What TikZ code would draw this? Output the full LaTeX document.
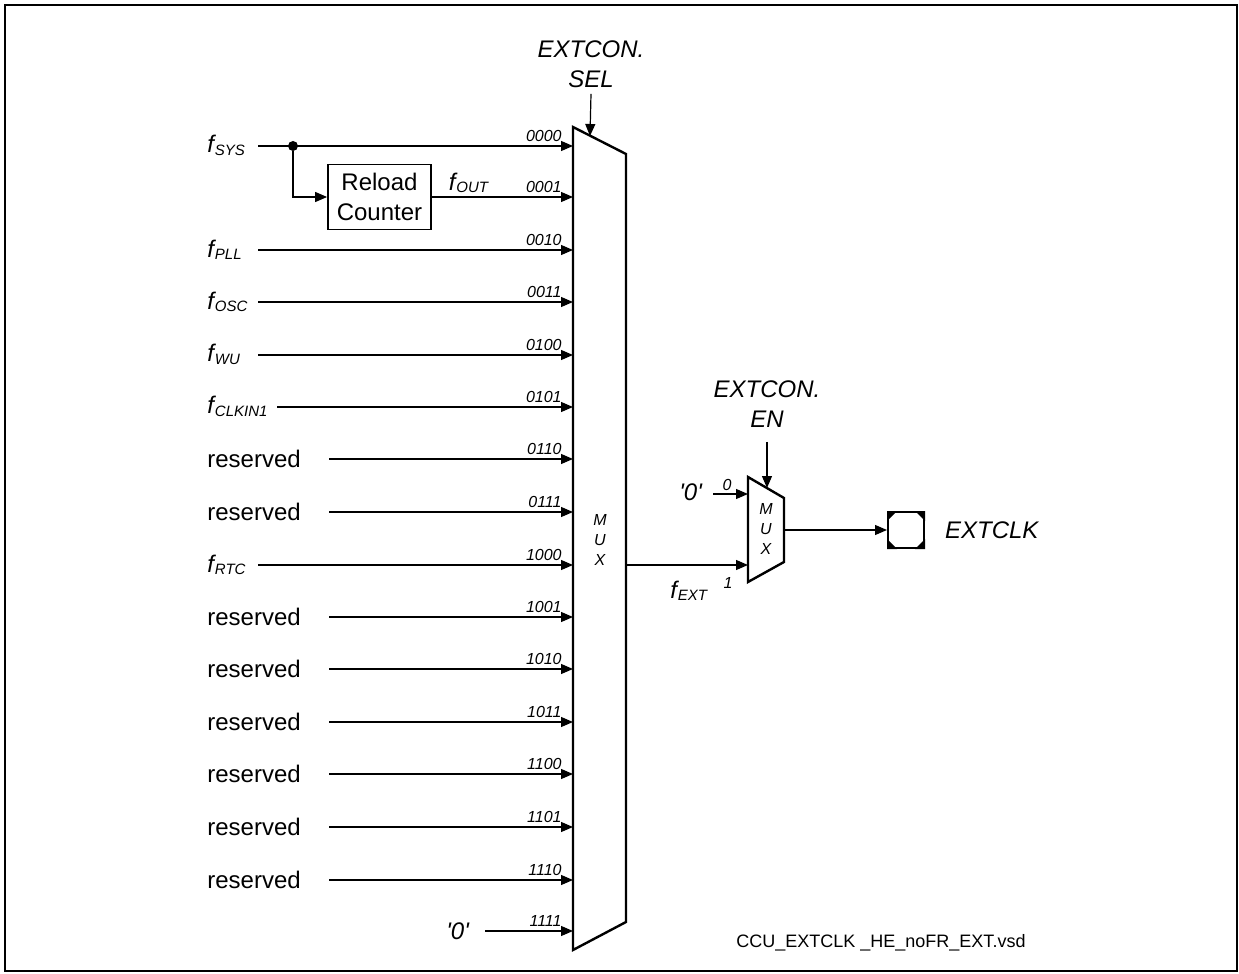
\documentclass[tikz,border=0pt]{standalone}
\usepackage{fontspec}
\setmainfont{Liberation Sans}
\usetikzlibrary{arrows.meta}
\newcommand{\fsub}[1]{\textit{f}\kern-0.6pt\raisebox{-0.2ex}{\fontsize{7.5}{8}\selectfont\textit{#1}}}
\newcommand{\zq}{\textit{\textquotesingle 0\textquotesingle}}

\tikzset{
  sig/.style={line width=0.6pt, -{Triangle[length=6pt,width=5pt]}},
  bitlbl/.style={font=\fontsize{8}{9}\selectfont\itshape, anchor=south east, inner sep=0pt},
  inlbl/.style={font=\fontsize{12}{14}\selectfont, anchor=base west, inner sep=0pt},
  ctrl/.style={font=\fontsize{12}{15}\selectfont\itshape, align=center, inner sep=0pt},
  muxtxt/.style={font=\fontsize{8}{10}\selectfont\itshape, align=center, inner sep=0pt}
}

\begin{document}
\begin{tikzpicture}[x=0.5pt,y=-0.5pt]
  \useasboundingbox (0,0) rectangle (1239,974);
  \draw[line width=1.2pt] (5,5) rectangle (1237,971);

  % Main multiplexer
  \draw[line width=1.2pt] (573,127) -- (626,154) -- (626,922) -- (573,950) -- cycle;
  \node[muxtxt] (mux) at (600,540) {M\\U\\X};
  \coordinate (selin) at (590,136);
  \node[ctrl] (sel) at (591,64) {EXTCON.\\SEL};
  \draw[sig] ([yshift=-3pt]sel.south) -- (selin);

  % Inputs and select codes
  \foreach \i/\yy/\sx/\bits in {0/146/258/0000, 1/197/431/0001, 2/250/258/0010,
      3/302/258/0011, 4/355/258/0100, 5/407/277/0101, 6/459/329/0110,
      7/512/329/0111, 8/565/258/1000, 9/617/329/1001, 10/669/329/1010,
      11/722/329/1011, 12/774/329/1100, 13/827/329/1101, 14/880/329/1110,
      15/931/485/1111}{
    \coordinate (s\i) at (\sx,\yy);
    \coordinate (m\i) at (573,\yy);
    \node[bitlbl] (b\i) at (562,\yy-4) {\bits};
  }
  \foreach \i in {0,2,3,...,15}
    \draw[sig] (s\i) -- (m\i);

  \node[inlbl] (lsys) at (207,153) {\fsub{SYS}};
  \node[inlbl] (lpll) at (207,257) {\fsub{PLL}};
  \node[inlbl] (losc) at (207,309) {\fsub{OSC}};
  \node[inlbl] (lwu) at (207,362) {\fsub{WU}};
  \node[inlbl] (lclk) at (207,414) {\fsub{CLKIN1}};
  \node[inlbl] (lrtc) at (207,572) {\fsub{RTC}};
  \foreach \i/\yy in {6/459, 7/512, 9/617, 10/669, 11/722, 12/774, 13/827, 14/880}
    \node[inlbl] (lr\i) at (207,\yy+8) {reserved};
  \node[inlbl] (lzero) at (446,939) {\zq};

  % Reload counter branch
  \node[draw, line width=0.9pt, minimum width=51.5pt, minimum height=32.5pt, inner sep=0pt,
        align=center, font=\fontsize{12}{15}\selectfont] (cnt) at (379.5,197) {Reload\\Counter};
  \node[circle, fill, inner sep=0pt, minimum size=5pt] (dot) at (293,146) {};
  \draw[sig] (dot) |- (cnt.west);
  \draw[sig] (cnt.east) -- (m1);
  \node[font=\fontsize{12}{14}\selectfont] (fout) at (469,183) {\fsub{OUT}};

  % Enable multiplexer
  \draw[line width=1.2pt] (748,477) -- (784,498) -- (784,562) -- (748,582) -- cycle;
  \node[muxtxt] (mux2) at (766,529) {M\\U\\X};
  \coordinate (mo) at (626,565);
  \coordinate (k0) at (748,494);
  \coordinate (k1) at (748,565);
  \coordinate (z0) at (713,494);
  \coordinate (enin) at (767,488);
  \coordinate (k2) at (784,530);
  \draw[sig] (mo) -- (k1);
  \draw[sig] (z0) -- (k0);
  \node[inlbl] (lz2) at (679,500) {\zq};
  \node[bitlbl, anchor=center] (b20) at (727,485) {0};
  \node[bitlbl, anchor=center] (b21) at (728,583) {1};
  \node[inlbl] (lext) at (670,598) {\fsub{EXT}};
  \node[ctrl] (en) at (767,404) {EXTCON.\\EN};
  \draw[sig] ([yshift=-7pt]en.south) -- (enin);

  % Output pad
  \node[draw, line width=1pt, minimum size=18pt, inner sep=0pt] (pad) at (906,530) {};
  \fill (pad.north west) -- ++(5pt,0pt) -- ++(-5pt,-5pt) -- cycle;
  \fill (pad.north east) -- ++(-5pt,0pt) -- ++(5pt,-5pt) -- cycle;
  \fill (pad.south west) -- ++(5pt,0pt) -- ++(-5pt,5pt) -- cycle;
  \fill (pad.south east) -- ++(-5pt,0pt) -- ++(5pt,5pt) -- cycle;
  \draw[sig] (k2) -- (pad.west);
  \node[font=\fontsize{12}{14}\selectfont\itshape, anchor=west] (extclk) at (938,530) {EXTCLK};

  \node[font=\fontsize{9}{11}\selectfont] (fname) at (881,943) {CCU\_EXTCLK \_HE\_noFR\_EXT.vsd};
\end{tikzpicture}
\end{document}
